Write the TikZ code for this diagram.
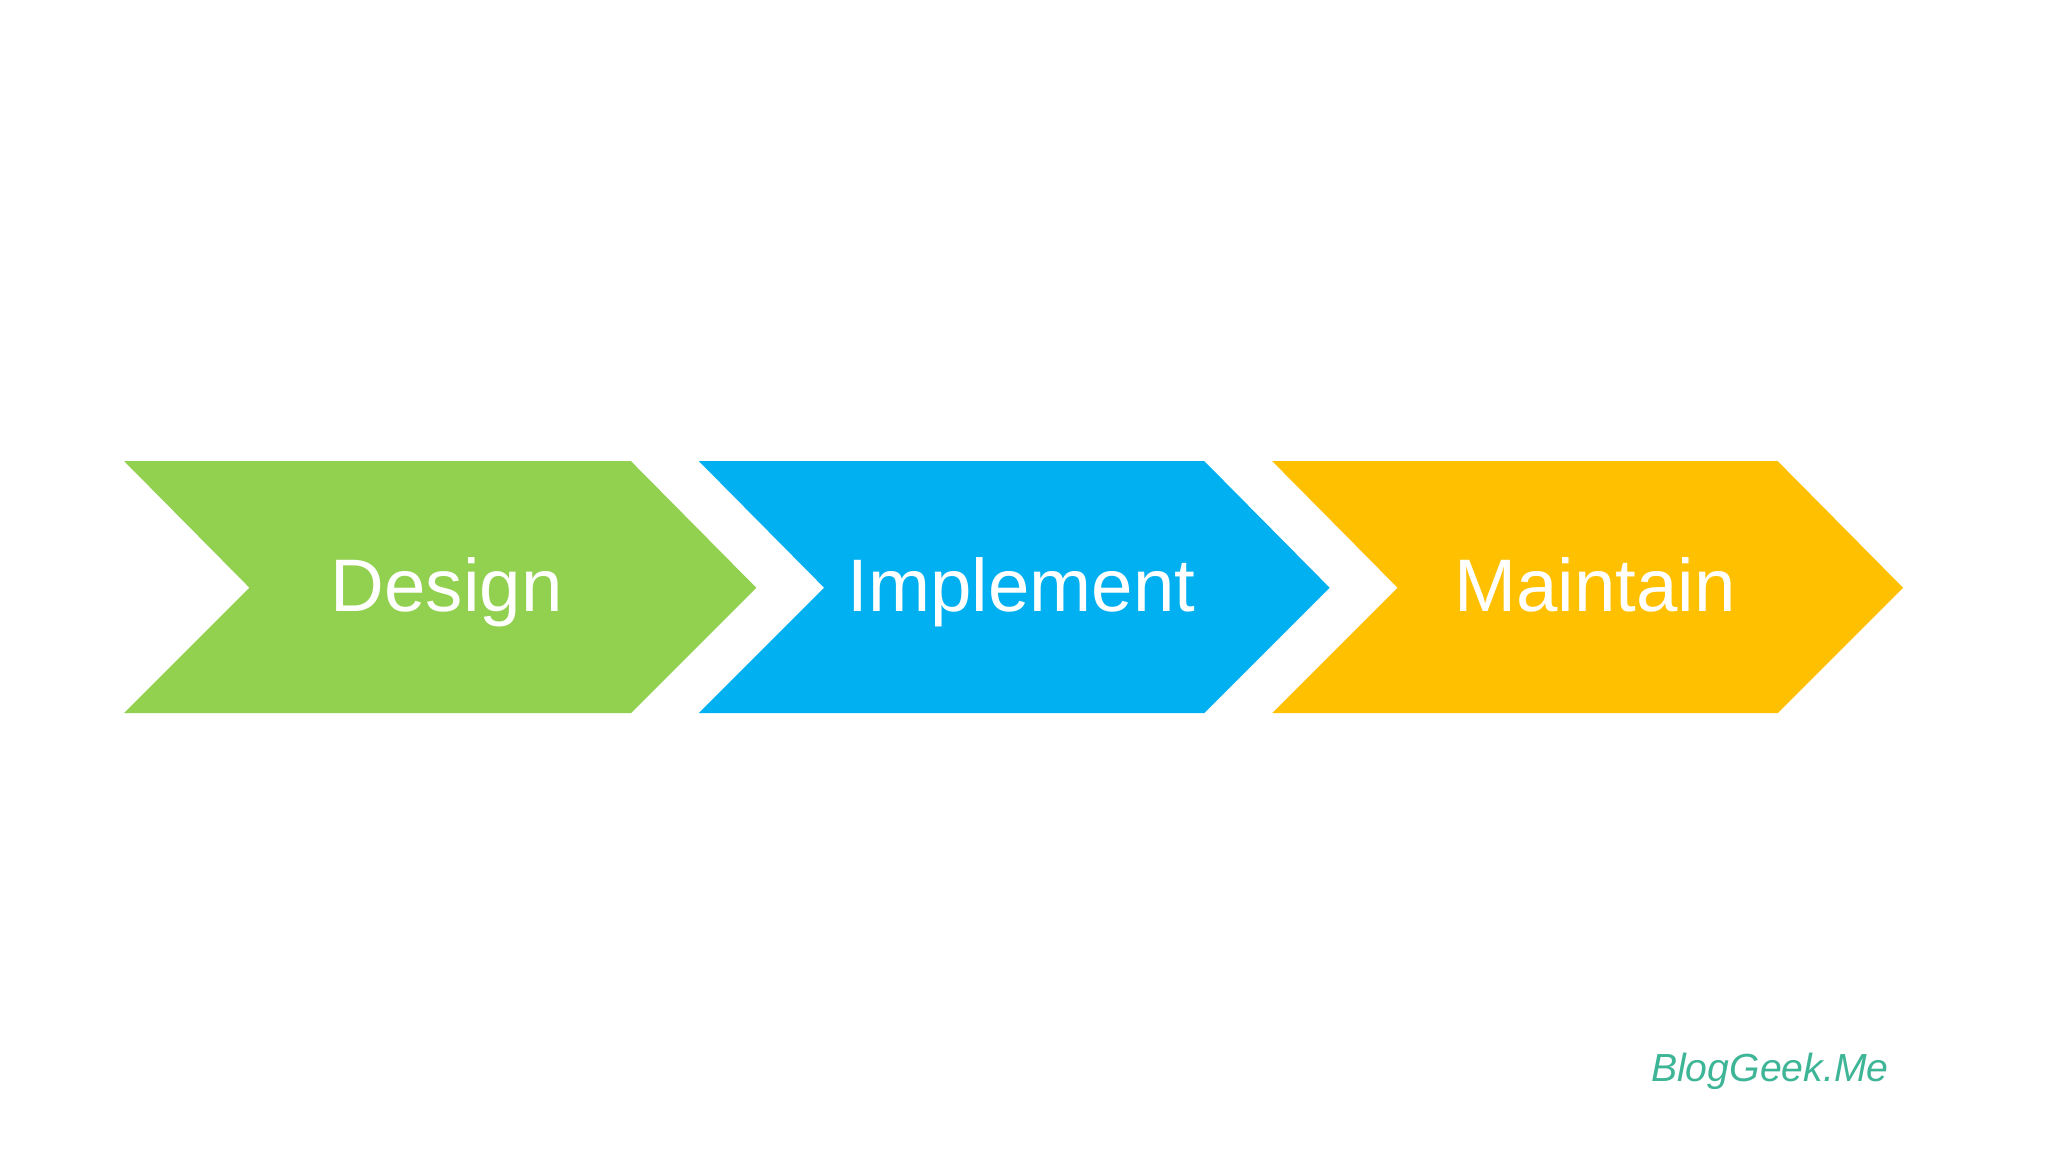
\documentclass[tikz,border=0pt]{standalone}
\usepackage{fontspec}
\setmainfont{Liberation Sans}
\definecolor{cgreen}{HTML}{92D050}
\definecolor{cblue}{HTML}{00B0F0}
\definecolor{cyellow}{HTML}{FFC000}
\definecolor{clogo}{HTML}{3DB596}
\tikzset{lbl/.style={text=white,anchor=base,font=\fontsize{57}{60}\selectfont}}
\begin{document}
\begin{tikzpicture}[x=1pt,y=-1pt]
\useasboundingbox[fill=white] (0,0) rectangle (1568,882);
\fill[cgreen] (95,353) -- (483,353) -- (579,450) -- (483,546) -- (95,546) -- (191,450) -- cycle;
\fill[cblue] (535,353) -- (922,353) -- (1018,450) -- (922,546) -- (535,546) -- (631,450) -- cycle;
\fill[cyellow] (974,353) -- (1361,353) -- (1457,450) -- (1361,546) -- (974,546) -- (1070,450) -- cycle;
\node[lbl] (d) at (342,468) {Design};
\node[lbl] (i) at (782,468) {Implement};
\node[lbl] (m) at (1221,468) {Maintain};
\node[text=clogo,font=\fontsize{30}{32}\selectfont\itshape] (logo) at (1355,820) {BlogGeek.Me};
\end{tikzpicture}
\end{document}
